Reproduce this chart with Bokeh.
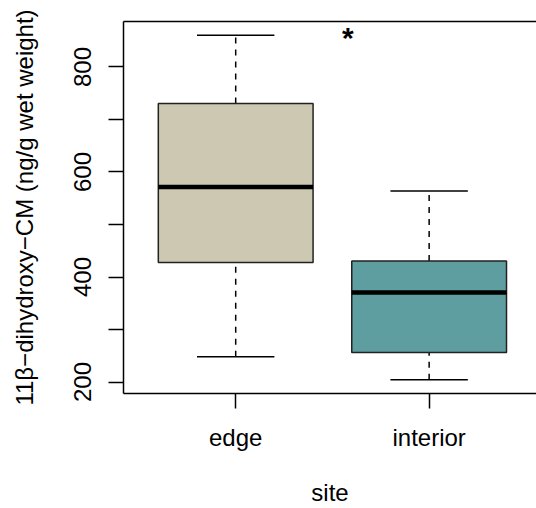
from bokeh.plotting import figure
from bokeh.models import Range1d, FixedTicker, LinearAxis, Label, ColumnDataSource
from bokeh.embed import file_html
from bokeh.resources import INLINE

# ---- data ----
sites = ["edge", "interior"]
positions = [1, 2]
lower_whisker = [248.1, 204.4]
q1 = [427.4, 256.3]
median = [571.3, 370.3]
q3 = [730.4, 430.6]
upper_whisker = [860.3, 563.7]
fill_colors = ["#CDC8B1", "#5F9EA0"]
y_ticks = [200, 300, 400, 500, 600, 700, 800]
y_tick_labels = ["200", "", "400", "", "600", "", "800"]
y_title = "11\u03b2\u2212dihydroxy\u2212CM (ng/g wet weight)"
x_title = "site"

FONT = "Liberation Sans"
BOX_W = 0.8
STAPLE_W = 0.4

lo, hi = min(lower_whisker), max(upper_whisker)
pad = 0.04 * (hi - lo)

p = figure(width=536, height=508, output_backend="svg", toolbar_location=None,
           x_range=Range1d(0.42, 2.555), y_range=Range1d(lo - pad, hi + pad),
           min_border_left=123, min_border_right=0, min_border_top=21,
           min_border_bottom=114)
p.outline_line_color = None
p.grid.visible = False
p.background_fill_color = "white"
p.border_fill_color = "white"

src = ColumnDataSource(dict(
    x=positions, lw=lower_whisker, q1=q1, med=median, q3=q3, uw=upper_whisker,
    color=fill_colors,
    sl=[x - STAPLE_W / 2 for x in positions], sr=[x + STAPLE_W / 2 for x in positions],
    bl=[x - BOX_W / 2 for x in positions], br=[x + BOX_W / 2 for x in positions],
))

# whiskers (dashed)
p.segment(x0="x", y0="q3", x1="x", y1="uw", source=src, line_color="black",
          line_width=1.5, line_dash="6 6")
p.segment(x0="x", y0="lw", x1="x", y1="q1", source=src, line_color="black",
          line_width=1.5, line_dash="6 6")
# staples
p.segment(x0="sl", y0="uw", x1="sr", y1="uw", source=src, line_color="black", line_width=1.5)
p.segment(x0="sl", y0="lw", x1="sr", y1="lw", source=src, line_color="black", line_width=1.5)
# boxes
p.vbar(x="x", width=BOX_W, bottom="q1", top="q3", source=src, fill_color="color",
       line_color="#222222", line_width=1.5)
# medians
p.segment(x0="bl", y0="med", x1="br", y1="med", source=src, line_color="black",
          line_width=4.5, line_cap="butt")

# significance marker
p.add_layout(Label(x=1.58, y=856, text="*", text_font=FONT, text_font_size="30px",
                   text_font_style="bold", text_align="center",
                   text_baseline="alphabetic", text_color="black"))

# axes
for ax in (p.xaxis[0], p.yaxis[0]):
    ax.axis_line_width = 1.5
    ax.axis_line_color = "black"
    ax.major_tick_line_width = 1.5
    ax.major_tick_line_color = "black"
    ax.major_tick_out = 15
    ax.major_tick_in = 0
    ax.minor_tick_line_color = None
    ax.major_label_text_font = FONT
    ax.major_label_text_font_size = "24px"
    ax.major_label_text_color = "black"
    ax.major_label_text_line_height = 1.0
    ax.axis_label_text_font = FONT
    ax.axis_label_text_font_size = "24px"
    ax.axis_label_text_font_style = "normal"
    ax.axis_label_text_color = "black"
    ax.axis_label_text_line_height = 1.0

p.xaxis.ticker = FixedTicker(ticks=positions)
p.xaxis.major_label_overrides = {pos: s for pos, s in zip(positions, sites)}
p.xaxis.major_label_standoff = 15
p.xaxis.axis_label = x_title
p.xaxis.axis_label_standoff = 25

p.yaxis.ticker = FixedTicker(ticks=y_ticks)
p.yaxis.major_label_overrides = {t: s for t, s in zip(y_ticks, y_tick_labels)}
p.yaxis.major_label_orientation = "vertical"
p.yaxis.axis_label = y_title
p.yaxis.major_label_standoff = 17
p.yaxis.axis_label_standoff = 34

top = LinearAxis(ticker=FixedTicker(ticks=[]), axis_line_width=1.5,
                 axis_line_color="black", major_tick_line_color=None,
                 minor_tick_line_color=None, major_label_text_font_size="0px")
p.add_layout(top, "above")

open("out.html", "w").write(file_html(p, INLINE))
